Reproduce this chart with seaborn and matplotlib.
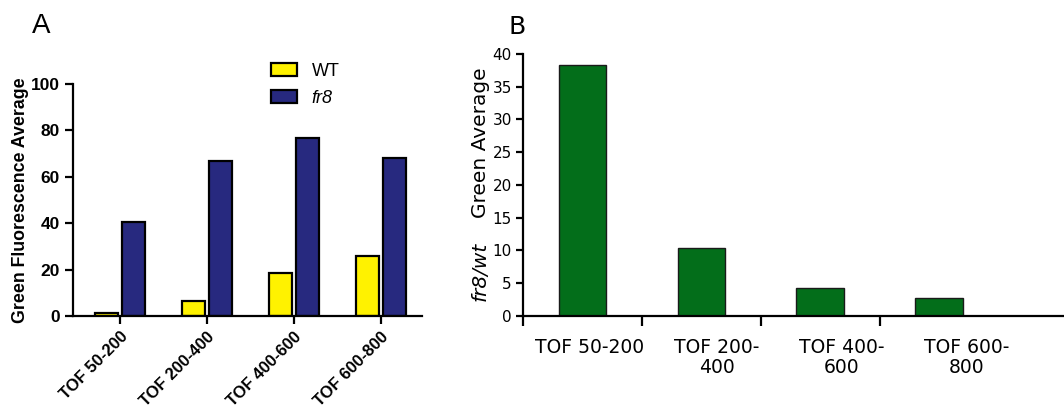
import numpy as np
import pandas as pd
import matplotlib
matplotlib.use('Agg')
import matplotlib.pyplot as plt
import seaborn as sns

# values
categories_a = ['TOF 50-200', 'TOF 200-400', 'TOF 400-600', 'TOF 600-800']
wt_values = [1.1, 6.3, 18.4, 25.9]
fr8_values = [40.6, 66.8, 76.9, 68.0]

categories_b = ['TOF 50-200', 'TOF 200-\n400', 'TOF 400-\n600', 'TOF 600-\n800']
ratio_values = [38.3, 10.4, 4.2, 2.66]

y_ticks_a = [0, 20, 40, 60, 80, 100]
y_ticks_b = [0, 5, 10, 15, 20, 25, 30, 35, 40]

sns.set_style('ticks')
plt.rcParams['text.color'] = 'black'
plt.rcParams['axes.labelcolor'] = 'black'
plt.rcParams['xtick.color'] = 'black'
plt.rcParams['ytick.color'] = 'black'
plt.rcParams['axes.edgecolor'] = 'black'

df_a = pd.DataFrame({
    'TOF': categories_a * 2,
    'value': wt_values + fr8_values,
    'genotype': ['WT'] * 4 + ['fr8'] * 4,
})
df_b = pd.DataFrame({'TOF': categories_b, 'value': ratio_values})

fig = plt.figure(figsize=(10.64, 4.13), dpi=100)

# ---- Panel A ----
ax1 = fig.add_axes([0.0686, 0.2349, 0.328, 0.5617])
sns.barplot(data=df_a, x='TOF', y='value', hue='genotype',
            palette={'WT': '#fff200', 'fr8': '#27297f'}, saturation=1,
            width=0.63, gap=0.17, edgecolor='black', linewidth=1.6,
            ax=ax1)
ax1.set_ylim(0, 100)
ax1.set_xlim(-0.54, 3.47)
ax1.set_yticks(y_ticks_a)
ax1.set_xlabel('')
ax1.set_ylabel('Green Fluorescence Average', family='Liberation Sans',
               fontweight='bold', fontsize=12.8, labelpad=1)
for sp in ['top', 'right']:
    ax1.spines[sp].set_visible(False)
for sp in ['left', 'bottom']:
    ax1.spines[sp].set_linewidth(1.6)
ax1.tick_params(axis='both', length=6, width=1.6)
for lab in ax1.get_yticklabels():
    lab.set_family('Liberation Sans')
    lab.set_fontweight('bold')
    lab.set_fontsize(12.5)
ax1.set_xticks(range(4))
ax1.set_xticklabels(categories_a, rotation=45, ha='right',
                    rotation_mode='anchor', family='Liberation Sans',
                    fontweight='bold', fontsize=12)
leg = ax1.legend(loc='upper left', bbox_to_anchor=(271 / 1064, 1 - 63 / 413),
                 bbox_transform=fig.transFigure, borderpad=0,
                 borderaxespad=0, frameon=False, handlelength=1.45,
                 handleheight=0.75, handletextpad=0.8, labelspacing=0.55,
                 prop={'family': 'Liberation Sans', 'size': 13})
leg.get_texts()[1].set_fontstyle('italic')
for h in leg.legend_handles:
    h.set_linewidth(1.6)

fig.text(41 / 1064, 1 - 26 / 413, 'A', family='Liberation Sans',
         fontsize=20, ha='center', va='center')

# ---- Panel B ----
ax2 = fig.add_axes([0.4915, 0.2356, 0.5085, 0.6336])
sns.barplot(data=df_b, x='TOF', y='value', color='#036e1a', saturation=1,
            width=0.4, edgecolor='#1a1a1a', linewidth=1.0, ax=ax2)
ax2.set_ylim(0, 40)
ax2.set_xlim(-0.5, 4.05)
ax2.set_yticks(y_ticks_b)
ax2.set_xlabel('')
ax2.set_ylabel('')
for sp in ['top', 'right']:
    ax2.spines[sp].set_visible(False)
for sp in ['left', 'bottom']:
    ax2.spines[sp].set_linewidth(1.6)
ax2.tick_params(axis='y', length=5, width=1.6, labelsize=11, pad=3)
# category labels sit slightly right of the bars, as in the reference
ax2.set_xticks([0.06, 1.13, 2.18, 3.23])
ax2.set_xticklabels(categories_b, fontsize=13.5, linespacing=1.1)
ax2.tick_params(axis='x', which='major', length=0, pad=16)
ax2.set_xticks([-0.5, 0.5, 1.5, 2.5], minor=True)
ax2.tick_params(axis='x', which='minor', length=7, width=1.6)
for lab in ax2.get_xticklabels():
    lab.set_verticalalignment('top')

fig.text(480 / 1064, 1 - 143 / 413, 'Green Average', rotation=90,
         fontsize=14.5, ha='center', va='center')
fig.text(480 / 1064, 1 - 271 / 413, 'fr8/wt', rotation=90,
         fontsize=14.5, style='italic', ha='center', va='center')
fig.text(517 / 1064, 1 - 27 / 413, 'B', fontsize=18,
         ha='center', va='center')

fig.savefig('out.png', dpi=100)
